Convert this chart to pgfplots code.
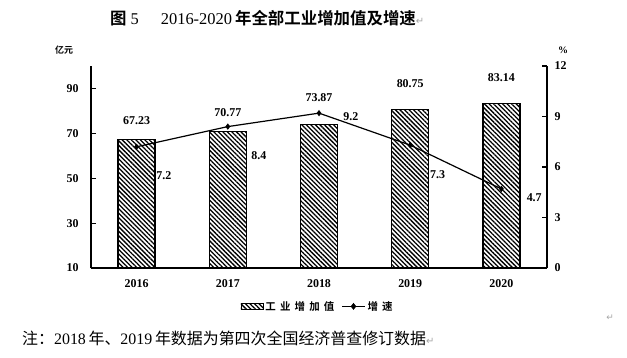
\documentclass[border=0pt]{standalone}
\usepackage{fontspec}
\setmainfont{Liberation Serif}
\newfontfamily\cjk{Noto Sans CJK SC}[BoldFont={Noto Sans CJK SC Bold}]
\newfontfamily\cjkleg{Noto Sans CJK SC Bold}[LetterSpace=40]
\newfontfamily\dejavu{DejaVu Sans}
\usepackage{pgfplots}
\pgfplotsset{compat=1.18}
\usetikzlibrary{patterns,patterns.meta}
\tikzset{hatch/.style={pattern={Lines[angle=-45,distance=3.2bp,line width=1.3bp]}, pattern color=black}}
\begin{document}
\begin{tikzpicture}[x=1bp,y=1bp]
\useasboundingbox (0,0) rectangle (627,357);
\fill[white] (0,0) rectangle (627,357);
\pgfplotsset{
  common/.style={
    at={(91bp,89bp)}, anchor=south west, scale only axis,
    width=456bp, height=202bp, xmin=0.5, xmax=5.5,
    axis line style={line width=1.5bp, -},
    tick style={line width=1.2bp, black},
    major tick length=5bp, tick align=inside,
    ticklabel style={font=\fontsize{12}{14}\selectfont\bfseries},
    /pgf/number format/assume math mode=true,
  }
}
\begin{axis}[common,
  ymin=10, ymax=100,
  axis x line*=bottom, axis y line*=left,
  ytick={10,30,50,70,90},
  xtick={1,2,3,4,5}, xticklabels={2016,2017,2018,2019,2020},
  xtick style={draw=none},
  yticklabel style={xshift=-9bp},
  xticklabel style={yshift=-8bp},
]
\addplot[ybar, bar width=37bp, draw=black, line width=1.3bp, hatch] coordinates {(1,67.23) (2,70.77) (3,73.87) (4,80.75) (5,83.14)};
\begin{scope}[font=\fontsize{12}{14}\selectfont\bfseries]
\node at (axis cs:1,75.5) {67.23};
\node at (axis cs:2,79.1) {70.77};
\node at (axis cs:3,85.7) {73.87};
\node at (axis cs:4,92.0) {80.75};
\node at (axis cs:5,94.7) {83.14};
\end{scope}
\end{axis}
\begin{axis}[common,
  ymin=0, ymax=12,
  axis x line=none, axis y line*=right,
  ytick={0,3,6,9,12},
  yticklabel style={xshift=4bp},
  legend style={at={(0.497,-0.19)}, anchor=center, draw=none, fill=none,
    legend columns=2, font=\cjkleg\fontsize{10.5}{12}\selectfont,
    /tikz/every even column/.append style={column sep=5bp}},
]
\addlegendimage{legend image code/.code={\draw[draw=black,line width=0.8bp,hatch] (0bp,-3bp) rectangle (22bp,3bp);}}
\addlegendentry{工业增加值}
\addplot[black, line width=1.2bp, mark=diamond*, mark size=2.2bp,
  legend image code/.code={\draw[black,line width=1.2bp] (0bp,0bp) -- (23bp,0bp); \fill[black] (11.5bp,0bp) +(0,2.5bp) -- +(2bp,0) -- +(0,-2.5bp) -- +(-2bp,0) -- cycle;}]
  coordinates {(1,7.2) (2,8.4) (3,9.2) (4,7.3) (5,4.7)};
\addlegendentry{增速}
\begin{scope}[font=\fontsize{12}{14}\selectfont\bfseries]
\node at (axis cs:1.30,5.47) {7.2};
\node at (axis cs:2.34,6.65) {8.4};
\node at (axis cs:3.35,8.97) {9.2};
\node at (axis cs:4.30,5.52) {7.3};
\node at (axis cs:5.36,4.16) {4.7};
\end{scope}
\end{axis}
% title
\node[anchor=west, inner sep=0] at (110,339) {\fontsize{16.5}{18}\selectfont{\cjk\bfseries 图}\hspace{4bp}5\hspace{22bp}2016-2020\hspace{3bp}{\cjk\bfseries 年全部工业增加值及增速}{\dejavu\color{gray!70}\fontsize{10}{12}\selectfont ↵}};
\node[inner sep=0] at (64,307) {\cjk\bfseries\fontsize{9}{10}\selectfont 亿元};
\node[inner sep=0] at (563,307) {\bfseries\fontsize{10}{12}\selectfont \%};
% note
\node[anchor=west, inner sep=0] at (22,19) {\fontsize{16}{18}\selectfont{\cjk 注：}2018\,{\cjk 年、}2019\,{\cjk 年数据为第四次全国经济普查修订数据}{\dejavu\color{gray!70}\fontsize{10}{12}\selectfont ↵}};
\node[inner sep=0] at (610,39) {\dejavu\color{gray!70}\fontsize{9}{10}\selectfont ↵};
\end{tikzpicture}
\end{document}
